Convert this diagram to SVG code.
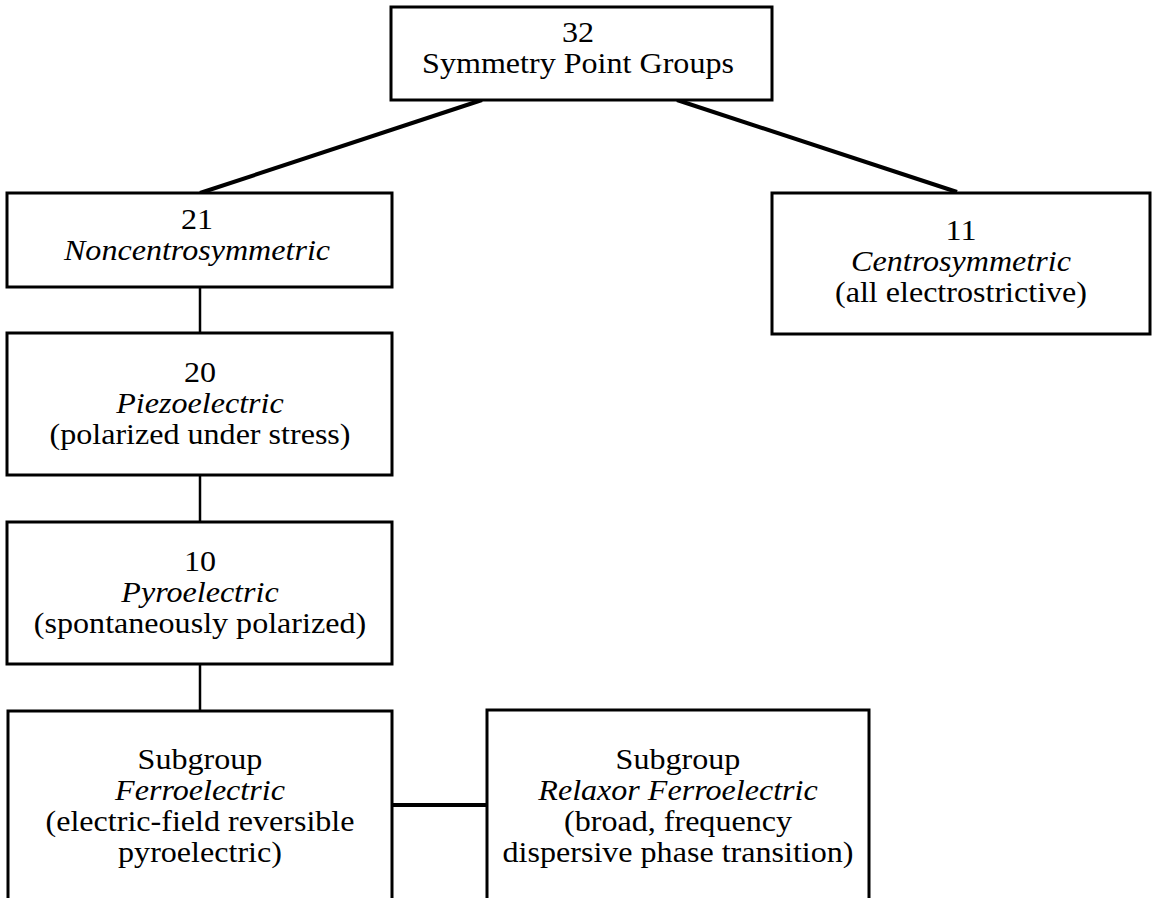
<svg xmlns="http://www.w3.org/2000/svg" width="1152" height="898" viewBox="0 0 1152 898">
<style>
  .box { fill: #ffffff; stroke: #000000; stroke-width: 3; }
  .t { font-family: "Liberation Serif", "Times New Roman", serif; font-size: 30px; fill: #000000; text-anchor: middle; }
  .i { font-style: italic; }
  .diag { stroke: #000000; stroke-width: 4; fill: none; }
  .vert { stroke: #000000; stroke-width: 2.5; fill: none; }
  .horiz { stroke: #000000; stroke-width: 4; fill: none; }
</style>
<rect x="0" y="0" width="1152" height="898" fill="#ffffff"/>
<g id="connectors">
  <line class="diag" x1="482" y1="100" x2="200" y2="193"/>
  <line class="diag" x1="677" y1="100" x2="957" y2="192"/>
  <line class="vert" x1="200" y1="287" x2="200" y2="333"/>
  <line class="vert" x1="200" y1="475" x2="200" y2="522"/>
  <line class="vert" x1="200" y1="664" x2="200" y2="711"/>
  <line class="horiz" x1="392" y1="805" x2="487" y2="805"/>
</g>
<g id="node-32">
  <rect class="box" x="391" y="7" width="381" height="93"/>
  <text class="t" transform="translate(578,42) scale(1.07,1)">32</text>
  <text class="t" transform="translate(578,73) scale(1.07,1)">Symmetry Point Groups</text>
</g>
<g id="node-21">
  <rect class="box" x="7" y="193" width="385" height="94"/>
  <text class="t" transform="translate(197,229) scale(1.07,1)">21</text>
  <text class="t i" transform="translate(197,260) scale(1.07,1)">Noncentrosymmetric</text>
</g>
<g id="node-11">
  <rect class="box" x="772" y="193" width="378" height="141"/>
  <text class="t" transform="translate(961,240) scale(1.07,1)">11</text>
  <text class="t i" transform="translate(961,271) scale(1.07,1)">Centrosymmetric</text>
  <text class="t" transform="translate(961,302) scale(1.07,1)">(all electrostrictive)</text>
</g>
<g id="node-20">
  <rect class="box" x="7" y="333" width="385" height="142"/>
  <text class="t" transform="translate(200,382) scale(1.07,1)">20</text>
  <text class="t i" transform="translate(200,413) scale(1.07,1)">Piezoelectric</text>
  <text class="t" transform="translate(200,444) scale(1.07,1)">(polarized under stress)</text>
</g>
<g id="node-10">
  <rect class="box" x="7" y="522" width="385" height="142"/>
  <text class="t" transform="translate(200,571) scale(1.07,1)">10</text>
  <text class="t i" transform="translate(200,602) scale(1.07,1)">Pyroelectric</text>
  <text class="t" transform="translate(200,633) scale(1.07,1)">(spontaneously polarized)</text>
</g>
<g id="node-ferro">
  <rect class="box" x="8" y="711" width="384" height="192"/>
  <text class="t" transform="translate(200,769) scale(1.07,1)">Subgroup</text>
  <text class="t i" transform="translate(200,800) scale(1.07,1)">Ferroelectric</text>
  <text class="t" transform="translate(200,831) scale(1.07,1)">(electric-field reversible</text>
  <text class="t" transform="translate(200,862) scale(1.07,1)">pyroelectric)</text>
</g>
<g id="node-relaxor">
  <rect class="box" x="487" y="710" width="382" height="193"/>
  <text class="t" transform="translate(678,769) scale(1.07,1)">Subgroup</text>
  <text class="t i" transform="translate(678,800) scale(1.07,1)">Relaxor Ferroelectric</text>
  <text class="t" transform="translate(678,831) scale(1.07,1)">(broad, frequency</text>
  <text class="t" transform="translate(678,862) scale(1.07,1)">dispersive phase transition)</text>
</g>
</svg>
